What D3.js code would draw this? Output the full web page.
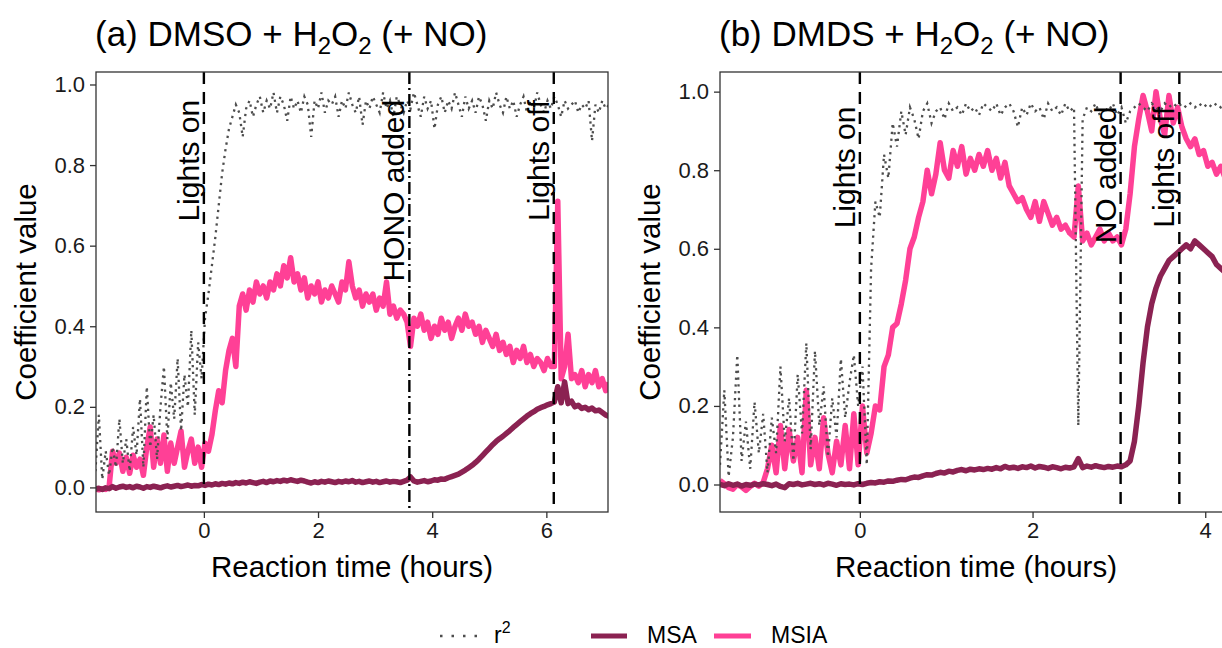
<!DOCTYPE html>
<html>
<head>
<meta charset="utf-8">
<script src="https://cdn.jsdelivr.net/npm/d3@7"></script>
<style>
  body { margin: 0; background: #fff; }
  svg { display: block; font-family: "Liberation Sans", Arial, sans-serif; }
</style>
</head>
<body>
<script>
// ---- data ----
// panel (a): samples every 0.06 h starting at -1.9 h
var startA = -1.9, stepA = 0.06;
var msaA = [
  -0.004,-0.002,-0.005,-0.001,-0.003,0.002,-0.002,0.001,0.003,0.000,
  0.002,-0.001,0.003,0.001,-0.002,0.002,0.000,0.003,0.001,-0.001,
  0.002,0.004,0.001,0.003,0.005,0.002,0.004,0.006,0.003,0.005,
  0.004,0.007,0.005,0.008,0.006,0.009,0.007,0.010,0.008,0.011,
  0.009,0.012,0.010,0.013,0.011,0.014,0.012,0.010,0.013,0.015,
  0.012,0.016,0.014,0.017,0.015,0.018,0.016,0.019,0.017,0.015,
  0.018,0.016,0.013,0.011,0.014,0.012,0.015,0.013,0.016,0.014,
  0.012,0.015,0.013,0.016,0.014,0.017,0.013,0.015,0.012,0.014,
  0.016,0.013,0.015,0.012,0.014,0.016,0.013,0.015,0.014,0.012,
  0.015,0.018,0.026,0.016,0.013,0.015,0.017,0.014,0.016,0.019,
  0.018,0.021,0.020,0.024,0.027,0.030,0.033,0.038,0.043,0.049,
  0.055,0.062,0.070,0.079,0.088,0.097,0.106,0.114,0.121,0.127,
  0.134,0.141,0.149,0.156,0.163,0.170,0.177,0.183,0.188,0.194,
  0.198,0.201,0.205,0.208,0.212,0.250,0.210,0.262,0.208,0.214,
  0.200,0.204,0.196,0.199,0.193,0.197,0.190,0.192,0.186,0.180,
  0.176
];
var msiaA = [
  -0.004,-0.006,-0.003,-0.005,0.002,0.09,0.06,0.085,0.04,0.075,
  0.035,0.08,0.05,0.07,0.03,0.10,0.15,0.05,0.12,0.06,
  0.13,0.04,0.11,0.06,0.10,0.14,0.05,0.09,0.12,0.06,
  0.10,0.05,0.11,0.09,0.13,0.19,0.24,0.21,0.29,0.34,
  0.37,0.30,0.45,0.48,0.44,0.49,0.46,0.51,0.48,0.50,
  0.47,0.51,0.49,0.53,0.50,0.55,0.52,0.57,0.51,0.53,
  0.49,0.52,0.47,0.50,0.48,0.51,0.46,0.49,0.47,0.50,
  0.48,0.46,0.51,0.49,0.56,0.50,0.47,0.49,0.45,0.48,
  0.46,0.48,0.44,0.47,0.45,0.51,0.43,0.45,0.42,0.44,
  0.43,0.41,0.35,0.42,0.40,0.43,0.39,0.41,0.37,0.40,
  0.38,0.42,0.39,0.41,0.37,0.40,0.42,0.39,0.43,0.40,
  0.41,0.38,0.40,0.36,0.39,0.37,0.35,0.38,0.34,0.36,
  0.33,0.35,0.31,0.34,0.32,0.35,0.31,0.33,0.30,0.32,
  0.31,0.29,0.32,0.30,0.30,0.71,0.27,0.30,0.38,0.27,
  0.28,0.26,0.29,0.25,0.28,0.26,0.29,0.25,0.27,0.24,
  0.26
];
var r2A = [
  0.04,0.18,0.02,0.09,0.03,0.10,0.05,0.17,0.06,0.12,
  0.04,0.15,0.08,0.22,0.05,0.25,0.10,0.18,0.07,0.20,
  0.30,0.12,0.26,0.17,0.32,0.14,0.28,0.20,0.39,0.18,
  0.36,0.27,0.42,0.48,0.55,0.62,0.70,0.78,0.84,0.89,
  0.92,0.95,0.93,0.87,0.94,0.96,0.92,0.95,0.97,0.93,
  0.96,0.94,0.98,0.93,0.97,0.95,0.91,0.97,0.94,0.96,
  0.93,0.97,0.95,0.87,0.96,0.94,0.98,0.93,0.96,0.95,
  0.97,0.92,0.96,0.94,0.98,0.95,0.93,0.97,0.90,0.96,
  0.94,0.97,0.95,0.93,0.98,0.94,0.96,0.92,0.97,0.95,
  0.93,0.96,0.94,0.98,0.95,0.92,0.97,0.94,0.96,0.89,
  0.95,0.97,0.93,0.96,0.94,0.98,0.95,0.92,0.97,0.94,
  0.96,0.93,0.97,0.95,0.91,0.96,0.94,0.98,0.95,0.93,
  0.97,0.94,0.96,0.92,0.95,0.97,0.93,0.96,0.94,0.98,
  0.95,0.93,0.96,0.94,0.97,0.95,0.92,0.96,0.94,0.95,
  0.96,0.93,0.95,0.94,0.96,0.86,0.95,0.93,0.96,0.94,
  0.95
];
var eventTimesA = [0, 3.6, 6.13];
var eventLabelsA = ["Lights on", "HONO added", "Lights off"];
var eventDashA = ["12,8", "12,4,2,4", "12,8"];

// panel (b): samples every 0.05 h starting at -1.62 h
var startB = -1.62, stepB = 0.05;
var msaB = [
  0.000,-0.003,0.002,-0.002,0.001,-0.004,0.000,-0.002,0.001,-0.001,
  0.002,0.000,-0.003,0.001,-0.005,-0.008,0.002,0.000,0.003,-0.001,
  0.001,0.003,0.000,0.002,-0.001,0.003,0.001,-0.002,0.002,0.000,
  0.001,-0.001,0.002,0.000,0.003,0.005,0.004,0.007,0.006,0.009,
  0.008,0.011,0.013,0.012,0.016,0.019,0.018,0.022,0.025,0.024,
  0.028,0.031,0.029,0.034,0.032,0.036,0.038,0.035,0.039,0.037,
  0.040,0.038,0.041,0.039,0.043,0.040,0.046,0.042,0.044,0.041,
  0.045,0.043,0.047,0.042,0.046,0.044,0.041,0.045,0.043,0.040,
  0.044,0.042,0.045,0.066,0.043,0.047,0.044,0.048,0.045,0.043,
  0.046,0.044,0.047,0.045,0.050,0.060,0.110,0.200,0.310,0.400,
  0.46,0.50,0.53,0.55,0.57,0.58,0.59,0.60,0.61,0.60,
  0.62,0.61,0.60,0.59,0.58,0.56,0.55,0.54
];
var msiaB = [
  0.01,0.002,-0.008,-0.012,0.000,-0.006,-0.015,-0.005,0.003,-0.004,
  0.005,0.04,0.10,0.03,0.15,0.04,0.14,0.06,0.12,0.03,
  0.24,0.05,0.12,0.04,0.17,0.08,0.03,0.11,0.05,0.15,
  0.04,0.18,0.05,0.20,0.08,0.13,0.20,0.19,0.30,0.33,
  0.40,0.41,0.46,0.52,0.60,0.63,0.68,0.72,0.80,0.74,
  0.79,0.87,0.80,0.78,0.85,0.81,0.86,0.79,0.83,0.80,
  0.84,0.81,0.85,0.80,0.83,0.78,0.82,0.76,0.74,0.72,
  0.73,0.70,0.68,0.72,0.67,0.72,0.69,0.66,0.68,0.65,
  0.66,0.64,0.63,0.76,0.62,0.64,0.61,0.63,0.65,0.62,
  0.64,0.62,0.63,0.61,0.65,0.74,0.86,0.93,0.99,0.95,
  0.90,1.00,0.93,0.89,0.99,0.92,0.96,0.91,0.88,0.86,
  0.88,0.84,0.85,0.81,0.82,0.79,0.81,0.78
];
var r2B = [
  0.05,0.24,0.02,0.12,0.33,0.06,0.16,0.04,0.21,0.08,
  0.18,0.03,0.17,0.08,0.30,0.11,0.22,0.06,0.28,0.13,
  0.36,0.09,0.34,0.15,0.25,0.07,0.22,0.12,0.32,0.17,
  0.26,0.33,0.20,0.30,0.05,0.55,0.72,0.68,0.84,0.78,
  0.92,0.86,0.95,0.89,0.96,0.93,0.88,0.95,0.97,0.92,
  0.95,0.96,0.93,0.97,0.95,0.96,0.94,0.97,0.95,0.96,
  0.94,0.97,0.96,0.95,0.97,0.94,0.96,0.97,0.95,0.91,
  0.96,0.94,0.97,0.95,0.96,0.93,0.97,0.95,0.96,0.94,
  0.97,0.95,0.96,0.15,0.93,0.96,0.95,0.97,0.94,0.96,
  0.95,0.97,0.94,0.96,0.92,0.95,0.96,0.97,0.96,0.95,
  0.97,0.96,0.95,0.97,0.96,0.97,0.96,0.97,0.96,0.97,
  0.96,0.97,0.96,0.97,0.96,0.97,0.96,0.97
];
var eventTimesB = [0, 3.02, 3.70];
var eventLabelsB = ["Lights on", "NO added", "Lights off"];
var eventDashB = ["12,8", "12,8", "12,8"];

var xTicksA = [0, 2, 4, 6];
var xTicksB = [0, 2, 4];
var yTicks = [0, 0.2, 0.4, 0.6, 0.8, 1.0];

var colMSA = "#8b2252";
var colMSIA = "#ff4096";
var colR2 = "#4d4d4d";

var w = 1222;
var h = 648;

var svg = d3.select("body")
            .append("svg")
            .attr("width", w)
            .attr("height", h);

function toPoints(vals, t0, dt) {
  return vals.map((v, i) => [t0 + i * dt, v]);
}

function drawPanel(p) {
  var x = d3.scaleLinear().domain(p.xDom).range([p.left, p.left + 512]);
  var y = d3.scaleLinear().domain(p.yDom).range([512, 72]);

  var g = svg.append("g");

  g.append("clipPath").attr("id", p.id)
    .append("rect")
    .attr("x", p.left).attr("y", 72)
    .attr("width", 512).attr("height", 440);

  // title with subscripts
  var title = g.append("text")
    .attr("x", p.left - 1)
    .attr("y", 46)
    .attr("font-size", 35)
    .attr("fill", "#000");
  title.append("tspan").text(p.title + " + H");
  title.append("tspan").attr("font-size", 24).attr("dy", 8).text("2");
  title.append("tspan").attr("dy", -8).text("O");
  title.append("tspan").attr("font-size", 24).attr("dy", 8).text("2");
  title.append("tspan").attr("dy", -8).text(" (+ NO)");

  var line = d3.line().x(d => x(d[0])).y(d => y(d[1]));

  var plot = g.append("g").attr("clip-path", "url(#" + p.id + ")");

  plot.append("path")
    .attr("d", line(toPoints(p.msia, p.t0, p.dt)))
    .attr("fill", "none")
    .attr("stroke", colMSIA)
    .attr("stroke-width", 5.5)
    .attr("stroke-linejoin", "round");

  plot.append("path")
    .attr("d", line(toPoints(p.msa, p.t0, p.dt)))
    .attr("fill", "none")
    .attr("stroke", colMSA)
    .attr("stroke-width", 5.5)
    .attr("stroke-linejoin", "round");

  plot.append("path")
    .attr("d", line(toPoints(p.r2, p.t0, p.dt)))
    .attr("fill", "none")
    .attr("stroke", colR2)
    .attr("stroke-width", 2.3)
    .attr("stroke-dasharray", "2.3,4.5");

  // event lines
  plot.selectAll("line.ev")
    .data(p.events)
    .enter()
    .append("line")
    .attr("x1", d => x(d)).attr("x2", d => x(d))
    .attr("y1", 72).attr("y2", 512)
    .attr("stroke", "#000")
    .attr("stroke-width", 2.4)
    .attr("stroke-dasharray", (d, i) => p.dashes[i]);

  g.selectAll("text.ev")
    .data(p.events)
    .enter()
    .append("text")
    .attr("transform", d => "translate(" + (x(d) - 5) + "," + y(0.962) + ") rotate(-90)")
    .attr("text-anchor", "end")
    .attr("font-size", 30)
    .attr("fill", "#000")
    .text((d, i) => p.labels[i]);

  // panel border
  g.append("rect")
    .attr("x", p.left).attr("y", 72)
    .attr("width", 512).attr("height", 440)
    .attr("fill", "none")
    .attr("stroke", "#333")
    .attr("stroke-width", 1.3);

  // axes
  var xAxis = d3.axisBottom(x).tickValues(p.xTicks).tickFormat(d3.format("d"))
                .tickSizeInner(6).tickSizeOuter(0).tickPadding(4);
  var gx = g.append("g").attr("transform", "translate(0,512)").call(xAxis);
  gx.select(".domain").remove();

  var yAxis = d3.axisLeft(y).tickValues(yTicks).tickFormat(d3.format(".1f"))
                .tickSizeInner(6).tickSizeOuter(0).tickPadding(5);
  var gy = g.append("g").attr("transform", "translate(" + p.left + ",0)").call(yAxis);
  gy.select(".domain").remove();

  [gx, gy].forEach(a => {
    a.selectAll(".tick line").attr("stroke", "#333").attr("stroke-width", 1.3);
    a.selectAll(".tick text")
      .attr("font-size", 22)
      .attr("fill", "#1a1a1a")
      .attr("font-family", "Liberation Sans, Arial, sans-serif");
  });

  g.append("text")
    .attr("x", p.left + 256)
    .attr("y", 577)
    .attr("text-anchor", "middle")
    .attr("font-size", 29.5)
    .text("Reaction time (hours)");

  g.append("text")
    .attr("transform", "translate(" + (p.left - 60) + ",292) rotate(-90)")
    .attr("text-anchor", "middle")
    .attr("font-size", 29.5)
    .text("Coefficient value");
}

drawPanel({
  id: "clipA", left: 96, title: "(a) DMSO",
  xDom: [-1.89, 7.08], yDom: [-0.061, 1.031],
  t0: startA, dt: stepA, msa: msaA, msia: msiaA, r2: r2A,
  events: eventTimesA, labels: eventLabelsA, dashes: eventDashA, xTicks: xTicksA
});

drawPanel({
  id: "clipB", left: 720, title: "(b) DMDS",
  xDom: [-1.62, 4.31], yDom: [-0.07, 1.05],
  t0: startB, dt: stepB, msa: msaB, msia: msiaB, r2: r2B,
  events: eventTimesB, labels: eventLabelsB, dashes: eventDashB, xTicks: xTicksB
});

// legend
var leg = svg.append("g");
leg.append("line")
  .attr("x1", 440).attr("x2", 478).attr("y1", 636).attr("y2", 636)
  .attr("stroke", colR2).attr("stroke-width", 2.5).attr("stroke-dasharray", "2.5,9");
var r2t = leg.append("text").attr("x", 494).attr("y", 643).attr("font-size", 23);
r2t.append("tspan").text("r");
r2t.append("tspan").attr("font-size", 16).attr("dy", -10).text("2");

leg.append("line")
  .attr("x1", 591).attr("x2", 627).attr("y1", 636).attr("y2", 636)
  .attr("stroke", colMSA).attr("stroke-width", 5);
leg.append("text").attr("x", 647).attr("y", 643).attr("font-size", 23).text("MSA");

leg.append("line")
  .attr("x1", 714).attr("x2", 751).attr("y1", 636).attr("y2", 636)
  .attr("stroke", colMSIA).attr("stroke-width", 5);
leg.append("text").attr("x", 771).attr("y", 643).attr("font-size", 23).text("MSIA");
</script>
</body>
</html>
